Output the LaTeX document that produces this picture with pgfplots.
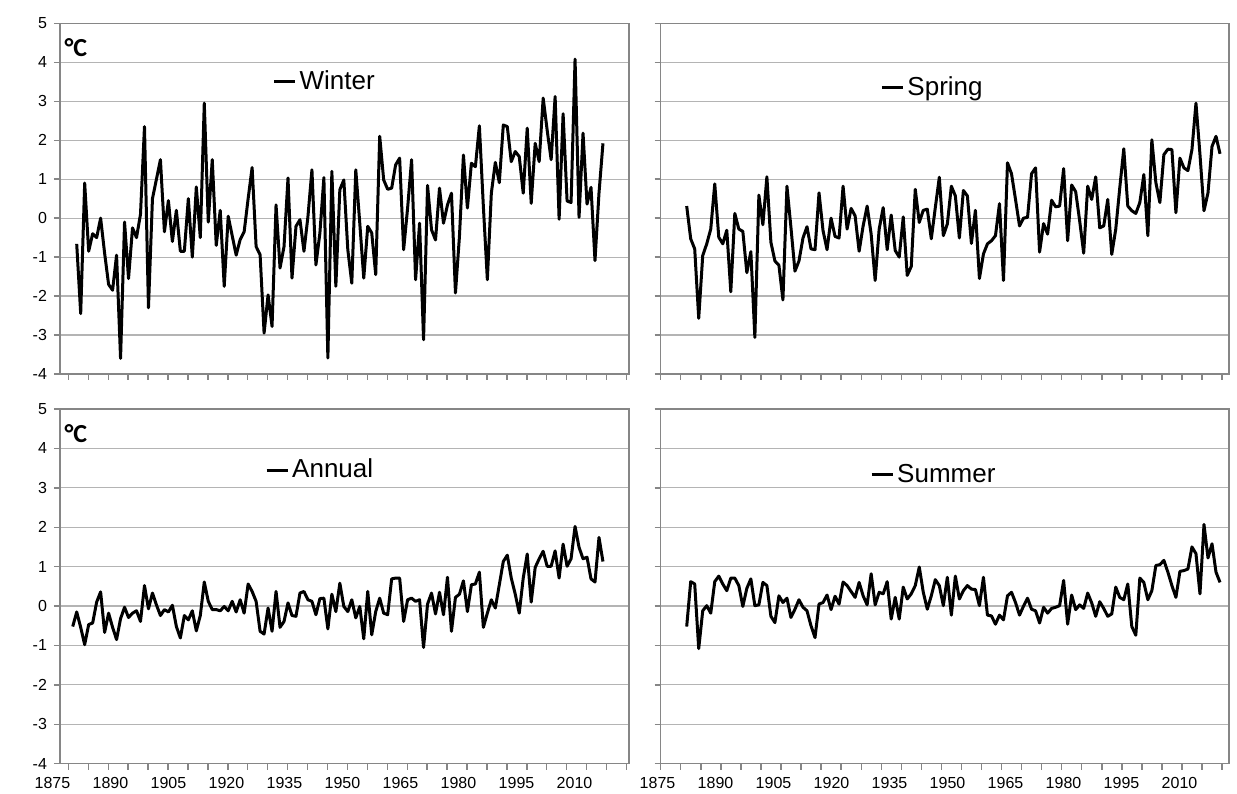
\documentclass[border=0pt]{standalone}
\usepackage{pgfplots}
\pgfplotsset{compat=1.18}
\usepackage{fontspec}
\setmainfont{Liberation Sans}
\newfontfamily\carlito{Carlito}
\definecolor{gridc}{HTML}{B4B4B4}
\definecolor{axc}{HTML}{868686}
\pgfplotsset{panel/.style={
  scale only axis, ymin=-4, ymax=5, ytick={-4,...,5},
  ymajorgrids, grid style={gridc, line width=0.6pt},
  axis line style={axc, line width=0.7pt},
  tick style={axc, line width=0.7pt},
  tick align=outside, major tick length=3pt,
  xtick pos=bottom, ytick pos=left,
  xticklabels={},
  /pgf/number format/assume math mode=true,
  yticklabel style={font=\fontsize{8}{9}\selectfont},
  legend style={draw=none, fill=none, font=\fontsize{13}{15}\selectfont, anchor=west,
    inner sep=0pt, nodes={inner sep=1.5pt}},
  legend image code/.code={\draw[black, line width=1.5pt] (0pt,0pt) -- (10.5pt,0pt);},
  cycle list={{black, mark=none, line width=1.5pt, line join=round}},
  every axis plot post/.append style={black, mark=none, line width=1.5pt, line join=round},
  clip=false,
}}
\begin{document}
\begin{tikzpicture}
\useasboundingbox (0,0) rectangle (618.5pt,396.5pt);
% ---------- Winter ----------
\begin{axis}[panel, at={(30pt,209.5pt)}, anchor=south west, width=284.5pt, height=175.35pt,
  xmin=1877.81, xmax=2020.53, xtick={1879.9,1884.9,...,2020},
  legend style={at={(0.373,0.833)}}]
\addplot coordinates {(1882,-0.66)(1883,-2.45)(1884,0.9)(1885,-0.85)(1886,-0.4)(1887,-0.5)(1888,0.0)(1889,-0.9)(1890,-1.7)(1891,-1.85)
(1892,-0.95)(1893,-3.6)(1894,-0.1)(1895,-1.55)(1896,-0.25)(1897,-0.5)(1898,0.1)(1899,2.35)(1900,-2.3)(1901,0.5)
(1902,1.0)(1903,1.5)(1904,-0.35)(1905,0.45)(1906,-0.6)(1907,0.2)(1908,-0.85)(1909,-0.85)(1910,0.5)(1911,-1.0)
(1912,0.8)(1913,-0.5)(1914,2.95)(1915,-0.1)(1916,1.5)(1917,-0.7)(1918,0.2)(1919,-1.75)(1920,0.05)(1921,-0.45)
(1922,-0.95)(1923,-0.55)(1924,-0.35)(1925,0.5)(1926,1.3)(1927,-0.73)(1928,-0.94)(1929,-2.95)(1930,-1.97)(1931,-2.78)
(1932,0.34)(1933,-1.28)(1934,-0.73)(1935,1.03)(1936,-1.54)(1937,-0.21)(1938,-0.04)(1939,-0.85)(1940,0.04)(1941,1.24)
(1942,-1.2)(1943,-0.38)(1944,1.04)(1945,-3.59)(1946,1.2)(1947,-1.75)(1948,0.73)(1949,0.98)(1950,-0.81)(1951,-1.67)
(1952,1.24)(1953,-0.13)(1954,-1.54)(1955,-0.21)(1956,-0.38)(1957,-1.45)(1958,2.1)(1959,0.98)(1960,0.74)(1961,0.77)
(1962,1.37)(1963,1.54)(1964,-0.81)(1965,0.26)(1966,1.5)(1967,-1.58)(1968,-0.13)(1969,-3.12)(1970,0.84)(1971,-0.3)
(1972,-0.56)(1973,0.77)(1974,-0.13)(1975,0.34)(1976,0.64)(1977,-1.92)(1978,-0.47)(1979,1.62)(1980,0.26)(1981,1.41)
(1982,1.32)(1983,2.37)(1984,0.3)(1985,-1.58)(1986,0.64)(1987,1.43)(1988,0.91)(1989,2.39)(1990,2.35)(1991,1.45)
(1992,1.71)(1993,1.58)(1994,0.64)(1995,2.31)(1996,0.38)(1997,1.92)(1998,1.45)(1999,3.08)(2000,2.26)(2001,1.5)
(2002,3.12)(2003,-0.03)(2004,2.68)(2005,0.44)(2006,0.4)(2007,4.08)(2008,0.02)(2009,2.18)(2010,0.36)(2011,0.79)
(2012,-1.09)(2013,0.64)(2014,1.92)};
\addlegendentry{Winter}
\node at (rel axis cs:0.028,0.93) {\carlito\bfseries\fontsize{13}{15}\selectfont °C};
\end{axis}
% ---------- Spring ----------
\begin{axis}[panel, at={(330.35pt,209.5pt)}, anchor=south west, width=284.15pt, height=175.35pt,
  xmin=1874.52, xmax=2016.24, xtick={1874.52,1879.52,...,2015}, yticklabels={},
  legend style={at={(0.386,0.818)}}]
\addplot coordinates {(1881,0.31)(1882,-0.53)(1883,-0.79)(1884,-2.57)(1885,-0.96)(1886,-0.66)(1887,-0.28)(1888,0.88)(1889,-0.49)(1890,-0.66)
(1891,-0.31)(1892,-1.89)(1893,0.12)(1894,-0.28)(1895,-0.34)(1896,-1.4)(1897,-0.86)(1898,-3.06)(1899,0.59)(1900,-0.17)
(1901,1.06)(1902,-0.62)(1903,-1.1)(1904,-1.21)(1905,-2.1)(1906,0.82)(1907,-0.24)(1908,-1.36)(1909,-1.1)(1910,-0.51)
(1911,-0.22)(1912,-0.79)(1913,-0.81)(1914,0.65)(1915,-0.32)(1916,-0.81)(1917,0.0)(1918,-0.47)(1919,-0.51)(1920,0.82)
(1921,-0.28)(1922,0.25)(1923,0.06)(1924,-0.85)(1925,-0.2)(1926,0.31)(1927,-0.41)(1928,-1.6)(1929,-0.28)(1930,0.27)
(1931,-0.81)(1932,0.08)(1933,-0.83)(1934,-1.0)(1935,0.03)(1936,-1.47)(1937,-1.24)(1938,0.74)(1939,-0.11)(1940,0.2)
(1941,0.23)(1942,-0.53)(1943,0.27)(1944,1.05)(1945,-0.45)(1946,-0.15)(1947,0.82)(1948,0.57)(1949,-0.51)(1950,0.71)
(1951,0.57)(1952,-0.65)(1953,0.2)(1954,-1.55)(1955,-0.92)(1956,-0.66)(1957,-0.58)(1958,-0.45)(1959,0.37)(1960,-1.6)
(1961,1.42)(1962,1.14)(1963,0.48)(1964,-0.2)(1965,0.0)(1966,0.02)(1967,1.14)(1968,1.29)(1969,-0.87)(1970,-0.14)
(1971,-0.41)(1972,0.46)(1973,0.29)(1974,0.31)(1975,1.27)(1976,-0.58)(1977,0.85)(1978,0.68)(1979,-0.07)(1980,-0.9)
(1981,0.82)(1982,0.48)(1983,1.06)(1984,-0.25)(1985,-0.2)(1986,0.48)(1987,-0.93)(1988,-0.28)(1989,0.78)(1990,1.78)
(1991,0.31)(1992,0.19)(1993,0.12)(1994,0.4)(1995,1.12)(1996,-0.45)(1997,2.01)(1998,0.91)(1999,0.4)(2000,1.63)
(2001,1.77)(2002,1.76)(2003,0.14)(2004,1.54)(2005,1.29)(2006,1.22)(2007,1.76)(2008,2.95)(2009,1.63)(2010,0.19)
(2011,0.65)(2012,1.84)(2013,2.1)(2014,1.65)};
\addlegendentry{Spring}
\end{axis}
% ---------- Annual ----------
\begin{axis}[panel, at={(30pt,14.65pt)}, anchor=south west, width=284.5pt, height=177.35pt,
  xmin=1877.81, xmax=2020.53, xtick={1879.9,1884.9,...,2020},
  legend style={at={(0.36,0.828)}}]
\addplot coordinates {(1881,-0.52)(1882,-0.15)(1883,-0.54)(1884,-0.98)(1885,-0.47)(1886,-0.43)(1887,0.1)(1888,0.36)(1889,-0.67)(1890,-0.18)
(1891,-0.54)(1892,-0.85)(1893,-0.32)(1894,-0.03)(1895,-0.29)(1896,-0.18)(1897,-0.12)(1898,-0.39)(1899,0.52)(1900,-0.07)
(1901,0.33)(1902,0.03)(1903,-0.24)(1904,-0.09)(1905,-0.15)(1906,0.02)(1907,-0.52)(1908,-0.81)(1909,-0.24)(1910,-0.35)
(1911,-0.12)(1912,-0.63)(1913,-0.24)(1914,0.61)(1915,0.12)(1916,-0.09)(1917,-0.09)(1918,-0.12)(1919,-0.01)(1920,-0.12)
(1921,0.12)(1922,-0.15)(1923,0.16)(1924,-0.18)(1925,0.56)(1926,0.37)(1927,0.12)(1928,-0.64)(1929,-0.71)(1930,-0.05)
(1931,-0.64)(1932,0.37)(1933,-0.54)(1934,-0.39)(1935,0.08)(1936,-0.24)(1937,-0.26)(1938,0.33)(1939,0.37)(1940,0.16)
(1941,0.12)(1942,-0.22)(1943,0.19)(1944,0.2)(1945,-0.58)(1946,0.3)(1947,-0.14)(1948,0.58)(1949,-0.01)(1950,-0.14)
(1951,0.16)(1952,-0.3)(1953,-0.01)(1954,-0.83)(1955,0.37)(1956,-0.73)(1957,-0.14)(1958,0.2)(1959,-0.18)(1960,-0.22)
(1961,0.69)(1962,0.71)(1963,0.71)(1964,-0.39)(1965,0.16)(1966,0.2)(1967,0.12)(1968,0.16)(1969,-1.05)(1970,0.05)
(1971,0.33)(1972,-0.2)(1973,0.35)(1974,-0.22)(1975,0.73)(1976,-0.64)(1977,0.22)(1978,0.3)(1979,0.64)(1980,-0.14)
(1981,0.54)(1982,0.56)(1983,0.86)(1984,-0.54)(1985,-0.18)(1986,0.16)(1987,-0.05)(1988,0.54)(1989,1.13)(1990,1.29)
(1991,0.71)(1992,0.3)(1993,-0.18)(1994,0.71)(1995,1.32)(1996,0.1)(1997,0.98)(1998,1.2)(1999,1.39)(2000,1.01)
(2001,1.01)(2002,1.4)(2003,0.71)(2004,1.57)(2005,1.01)(2006,1.2)(2007,2.02)(2008,1.49)(2009,1.2)(2010,1.24)
(2011,0.69)(2012,0.61)(2013,1.74)(2014,1.13)};
\addlegendentry{Annual}
\node at (rel axis cs:0.028,0.932) {\carlito\bfseries\fontsize{13}{15}\selectfont °C};
\end{axis}
% ---------- Summer ----------
\begin{axis}[panel, at={(330.35pt,14.65pt)}, anchor=south west, width=284.15pt, height=177.35pt,
  xmin=1874.52, xmax=2016.24, xtick={1874.52,1879.52,...,2015}, yticklabels={},
  legend style={at={(0.368,0.814)}}]
\addplot coordinates {(1881,-0.52)(1882,0.62)(1883,0.56)(1884,-1.08)(1885,-0.12)(1886,0.01)(1887,-0.18)(1888,0.62)(1889,0.76)(1890,0.56)
(1891,0.39)(1892,0.71)(1893,0.71)(1894,0.52)(1895,-0.01)(1896,0.45)(1897,0.69)(1898,0.01)(1899,0.03)(1900,0.6)
(1901,0.52)(1902,-0.26)(1903,-0.42)(1904,0.26)(1905,0.09)(1906,0.2)(1907,-0.29)(1908,-0.08)(1909,0.16)(1910,-0.03)
(1911,-0.12)(1912,-0.5)(1913,-0.8)(1914,0.05)(1915,0.09)(1916,0.28)(1917,-0.09)(1918,0.25)(1919,0.05)(1920,0.61)
(1921,0.52)(1922,0.37)(1923,0.22)(1924,0.6)(1925,0.26)(1926,0.03)(1927,0.82)(1928,0.03)(1929,0.35)(1930,0.31)
(1931,0.62)(1932,-0.33)(1933,0.22)(1934,-0.33)(1935,0.48)(1936,0.18)(1937,0.31)(1938,0.52)(1939,0.99)(1940,0.35)
(1941,-0.08)(1942,0.26)(1943,0.67)(1944,0.52)(1945,0.01)(1946,0.73)(1947,-0.23)(1948,0.76)(1949,0.18)(1950,0.39)
(1951,0.52)(1952,0.43)(1953,0.42)(1954,0.01)(1955,0.73)(1956,-0.23)(1957,-0.25)(1958,-0.46)(1959,-0.23)(1960,-0.35)
(1961,0.26)(1962,0.35)(1963,0.09)(1964,-0.23)(1965,0.0)(1966,0.2)(1967,-0.08)(1968,-0.12)(1969,-0.43)(1970,-0.03)
(1971,-0.18)(1972,-0.06)(1973,-0.03)(1974,0.01)(1975,0.65)(1976,-0.46)(1977,0.28)(1978,-0.09)(1979,0.03)(1980,-0.06)
(1981,0.33)(1982,0.08)(1983,-0.26)(1984,0.11)(1985,-0.06)(1986,-0.26)(1987,-0.2)(1988,0.48)(1989,0.22)(1990,0.16)
(1991,0.56)(1992,-0.52)(1993,-0.74)(1994,0.71)(1995,0.6)(1996,0.16)(1997,0.39)(1998,1.03)(1999,1.05)(2000,1.16)
(2001,0.86)(2002,0.52)(2003,0.22)(2004,0.88)(2005,0.9)(2006,0.94)(2007,1.5)(2008,1.33)(2009,0.31)(2010,2.07)
(2011,1.22)(2012,1.58)(2013,0.86)(2014,0.6)};
\addlegendentry{Summer}
\end{axis}
% ---------- x tick labels ----------
\foreach \lab [count=\i from 0] in {1875,1890,1905,1920,1935,1950,1965,1980,1995,2010}{
  \node[font=\fontsize{8}{9}\selectfont] at ({(52.5+58*\i)*0.5pt},5pt) {\lab};
  \node[font=\fontsize{8}{9}\selectfont] at ({(657.5+58*\i)*0.5pt},5pt) {\lab};
}
\end{tikzpicture}
\end{document}
